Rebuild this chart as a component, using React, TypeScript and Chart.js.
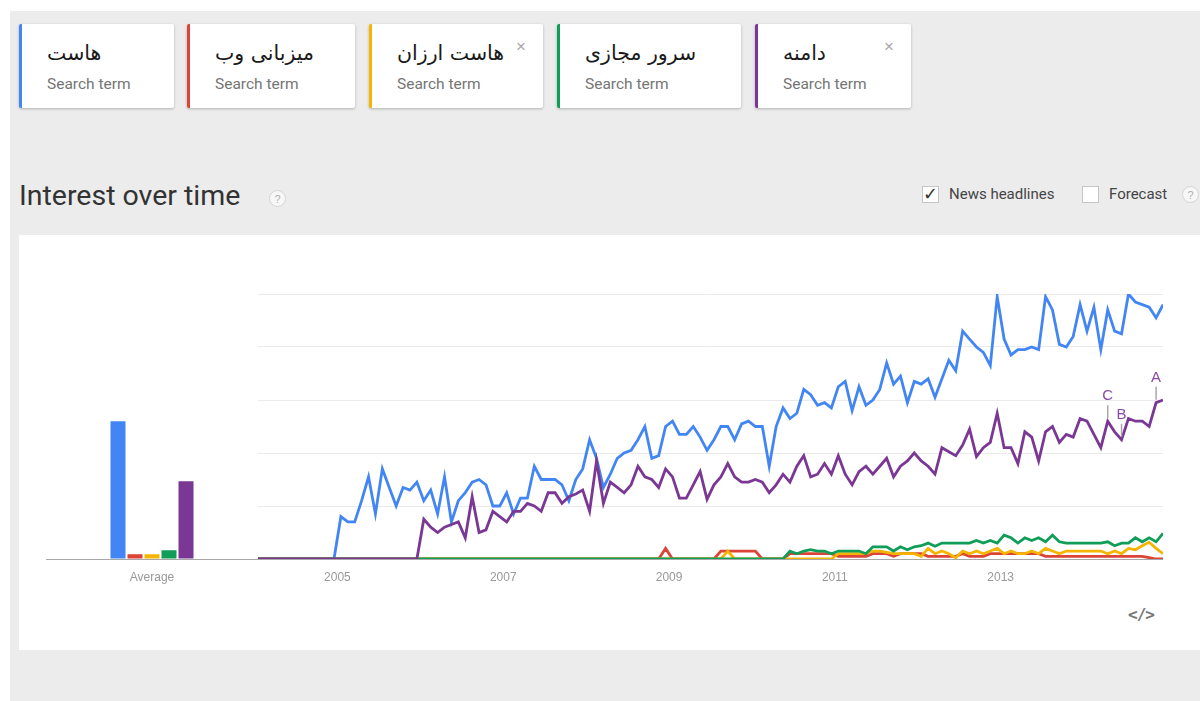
import React, { useEffect, useRef } from 'react';
import { Chart, registerables } from 'chart.js';

Chart.register(...registerables);

const TERMS = ['هاست', 'میزبانی وب', 'هاست ارزان', 'سرور مجازی', 'دامنه'];
const SUBTITLE = 'Search term';
const COLORS = ['#4285f4', '#db4437', '#f4b400', '#0f9d58', '#7b3794'];
const YEARS = [2004, 2005, 2006, 2007, 2008, 2009, 2010, 2011, 2012, 2013, 2014];
const MONTHS: string[] = YEARS.flatMap((y) =>
  ['01', '02', '03', '04', '05', '06', '07', '08', '09', '10', '11', '12'].map((m) => `${y}-${m}`)
);
const TICK_YEARS = ['2005', '2007', '2009', '2011', '2013'];
const AVERAGE_LABEL = 'Average';
const AVERAGE = [52, 1.8, 1.8, 3.3, 29.3];

// one row per year, Jan..Dec
const HOST = [
  0, 0, 0, 0, 0, 0, 0, 0, 0, 0, 0, 0,
  16, 14, 14, 22, 31, 17, 34, 27, 20, 27, 26, 29,
  22, 26, 17, 31, 14, 22, 25, 29, 30, 28, 20, 20,
  25, 17, 23, 23, 35, 30, 30, 30, 28, 22, 30, 34,
  45, 38, 27, 32, 38, 40, 41, 45, 50, 38, 39, 50,
  52, 47, 47, 50, 46, 41, 45, 50, 50, 45, 51, 52,
  50, 50, 35, 50, 57, 53, 55, 64, 62, 58, 59, 57,
  65, 67, 56, 65, 58, 60, 64, 74, 66, 69, 59, 67,
  66, 68, 61, 68, 75, 71, 86, 83, 80, 78, 73, 99,
  83, 77, 79, 79, 80, 79, 99, 94, 81, 80, 84, 96,
  86, 95, 79, 94, 86, 85, 100, 97, 96, 95, 91, 96,
];
const WEB_HOSTING = [
  0, 0, 0, 0, 0, 0, 0, 0, 0, 0, 0, 0,
  0, 0, 0, 0, 0, 0, 0, 0, 0, 0, 0, 0,
  0, 0, 0, 0, 0, 0, 0, 0, 0, 0, 0, 0,
  0, 0, 0, 0, 0, 0, 0, 0, 0, 0, 0, 0,
  0, 0, 0, 0, 0, 0, 0, 0, 0, 0, 0, 4,
  0, 0, 0, 0, 0, 0, 0, 3, 3, 3, 3, 3,
  3, 0, 0, 0, 0, 2, 2, 2, 2, 2, 2, 2,
  1, 1, 1, 1, 1, 2, 2, 2, 1, 2, 2, 2,
  2, 1, 1, 1, 1, 1, 2, 1, 1, 1, 2, 2,
  2, 2, 2, 2, 2, 2, 1, 1, 1, 1, 1, 1,
  1, 1, 1, 1, 1, 1, 1, 1, 1, 0.5, 0, 0,
];
const CHEAP_HOST = [
  0, 0, 0, 0, 0, 0, 0, 0, 0, 0, 0, 0,
  0, 0, 0, 0, 0, 0, 0, 0, 0, 0, 0, 0,
  0, 0, 0, 0, 0, 0, 0, 0, 0, 0, 0, 0,
  0, 0, 0, 0, 0, 0, 0, 0, 0, 0, 0, 0,
  0, 0, 0, 0, 0, 0, 0, 0, 0, 0, 0, 0,
  0, 0, 0, 0, 0, 0, 0, 0, 3, 0, 0, 0,
  0, 0, 0, 0, 0, 0, 0, 0, 0, 0, 0, 0,
  2, 2, 2, 2, 2, 3, 3, 2.5, 2, 2, 2, 2,
  1, 4, 2, 3, 2, 0.5, 3, 2, 3, 2, 3, 4,
  2, 3, 2, 2, 3, 2, 4, 3, 2, 3, 3, 3,
  3, 3, 3, 2, 3, 2, 4, 3.5, 5, 6.3, 4, 2,
];
const VPS = [
  0, 0, 0, 0, 0, 0, 0, 0, 0, 0, 0, 0,
  0, 0, 0, 0, 0, 0, 0, 0, 0, 0, 0, 0,
  0, 0, 0, 0, 0, 0, 0, 0, 0, 0, 0, 0,
  0, 0, 0, 0, 0, 0, 0, 0, 0, 0, 0, 0,
  0, 0, 0, 0, 0, 0, 0, 0, 0, 0, 0, 0,
  0, 0, 0, 0, 0, 0, 0, 0, 0, 0, 0, 0,
  0, 0, 0, 0, 0, 3, 2, 3, 3.5, 3, 3, 2,
  3, 3, 3, 3, 2, 4.6, 4.6, 4.6, 3, 4.6, 3.5, 4.6,
  5, 6, 4.8, 6, 6, 6, 6, 6, 7, 6, 7, 6,
  9, 8, 6, 8, 7, 8, 6.5, 9, 6.5, 6, 6, 6,
  6, 6, 6, 6.5, 5, 6, 6, 8, 6.5, 8, 6.5, 9.7,
];
const DOMAIN = [
  0, 0, 0, 0, 0, 0, 0, 0, 0, 0, 0, 0,
  0, 0, 0, 0, 0, 0, 0, 0, 0, 0, 0, 0,
  15, 12, 10, 12, 13, 14, 8, 23.5, 10, 11, 18, 16,
  14, 18, 18, 21, 20, 18, 25, 25, 21, 23.5, 24.5, 26,
  18, 37, 21, 29, 27, 25, 28, 35, 31, 30, 27, 34,
  31, 23, 23, 28, 33, 22.5, 28, 31, 36, 31, 29, 29,
  30, 29, 25, 28, 32, 29, 35, 39, 31, 32, 36, 32,
  39, 32, 28, 33, 35, 32, 35, 38, 31, 35, 37, 40,
  37, 35, 32, 42, 40.5, 39, 43, 49, 38.6, 42, 44, 55,
  42, 42, 36, 48, 46, 37, 48, 50, 44, 47, 46, 53,
  52, 47, 42, 52, 48, 45, 53, 52, 52, 50, 59, 60,
];
const SERIES = [HOST, WEB_HOSTING, CHEAP_HOST, VPS, DOMAIN];
const ANNOTATION_LABELS = ['A', 'B', 'C'];
const ANNOTATION_MONTHS = ['2014-11', '2014-06', '2014-04'];

const annotationPlugin = {
  id: 'newsMarkers',
  afterDatasetsDraw(chart: any) {
    const { ctx, scales } = chart;
    ANNOTATION_LABELS.forEach((label, k) => {
      const i = MONTHS.indexOf(ANNOTATION_MONTHS[k]);
      const px = scales.x.getPixelForValue(i);
      const py = scales.y.getPixelForValue(DOMAIN[i]);
      ctx.save();
      ctx.strokeStyle = '#a8a8a8';
      ctx.lineWidth = 1.5;
      ctx.beginPath();
      ctx.moveTo(px, py - 3);
      ctx.lineTo(px, py - 16);
      ctx.stroke();
      ctx.fillStyle = '#8a4aa3';
      ctx.font = '15px Arial, "Liberation Sans"';
      ctx.textAlign = 'center';
      ctx.textBaseline = 'middle';
      ctx.fillText(label, px, py - 25);
      ctx.restore();
    });
  },
};

const gridColor = (ctx: any) => (ctx.tick && ctx.tick.value === 0 ? '#a8a8a8' : '#ebebeb');

function LineChart() {
  const ref = useRef<HTMLCanvasElement>(null);
  useEffect(() => {
    const order = [4, 3, 2, 1, 0];
    const chart = new Chart(ref.current!, {
      type: 'line',
      data: {
        datasets: order.map((k) => ({
          label: TERMS[k],
          data: SERIES[k].map((v, i) => ({ x: i, y: v })),
          borderColor: COLORS[k],
          backgroundColor: COLORS[k],
          borderWidth: 2.8,
          pointRadius: 0,
          tension: 0,
        })),
      },
      options: {
        animation: false,
        responsive: false,
        maintainAspectRatio: false,
        layout: { padding: { top: 10, left: 8, right: 17, bottom: 0 } },
        plugins: { legend: { display: false }, tooltip: { enabled: false } },
        scales: {
          x: {
            type: 'linear',
            min: 0,
            max: MONTHS.length - 1,
            grid: { display: false },
            border: { display: false },
            afterBuildTicks: (s: any) => {
              s.ticks = TICK_YEARS.map((y) => ({ value: MONTHS.indexOf(`${y}-01`) - 0.5 }));
            },
            ticks: {
              autoSkip: false,
              maxRotation: 0,
              padding: 3,
              color: '#999',
              font: { family: 'Arial, "Liberation Sans"', size: 12 },
              callback: (_v: any, i: number) => TICK_YEARS[i],
            },
            afterFit: (s: any) => {
              s.height = 35;
            },
          },
          y: {
            min: 0,
            max: 100,
            ticks: { display: false, stepSize: 20 },
            border: { display: false },
            grid: { drawTicks: false, color: gridColor, lineWidth: 1 },
            afterFit: (s: any) => {
              s.width = 0;
            },
          },
        },
      },
      plugins: [annotationPlugin],
    } as any);
    return () => chart.destroy();
  }, []);
  return (
    <canvas
      ref={ref}
      width={930}
      height={310}
      style={{ position: 'absolute', left: 250, top: 284, width: 930, height: 310 }}
    />
  );
}

function AverageChart() {
  const ref = useRef<HTMLCanvasElement>(null);
  useEffect(() => {
    const chart = new Chart(ref.current!, {
      type: 'bar',
      data: {
        labels: [AVERAGE_LABEL],
        datasets: TERMS.map((t, k) => ({
          label: t,
          data: [AVERAGE[k]],
          backgroundColor: COLORS[k],
          categoryPercentage: 85 / 212,
          barPercentage: 15 / 17,
        })),
      },
      options: {
        animation: false,
        responsive: false,
        maintainAspectRatio: false,
        layout: { padding: { top: 10, left: 0, right: 0, bottom: 0 } },
        plugins: { legend: { display: false }, tooltip: { enabled: false } },
        scales: {
          x: {
            grid: { display: false },
            border: { display: false },
            ticks: { padding: 3, color: '#999', font: { family: 'Arial, "Liberation Sans"', size: 12 } },
            afterFit: (s: any) => {
              s.height = 35;
            },
          },
          y: {
            min: 0,
            max: 100,
            ticks: { display: false, stepSize: 20 },
            border: { display: false },
            grid: {
              drawTicks: false,
              color: (ctx: any) => (ctx.tick && ctx.tick.value === 0 ? '#a8a8a8' : 'rgba(0,0,0,0)'),
            },
            afterFit: (s: any) => {
              s.width = 0;
            },
          },
        },
      },
    } as any);
    return () => chart.destroy();
  }, []);
  return (
    <canvas
      ref={ref}
      width={212}
      height={310}
      style={{ position: 'absolute', left: 46, top: 284, width: 212, height: 310 }}
    />
  );
}

const CARD_LEFTS = [19, 187, 369, 557, 755];
const CARD_WIDTHS = [155, 168, 174, 184, 156];
const CARD_CLOSE = [false, false, true, false, true];

function Help({ left, top }: { left: number; top: number }) {
  return (
    <div
      style={{
        position: 'absolute',
        left,
        top,
        width: 17,
        height: 17,
        borderRadius: '50%',
        border: '1px solid #d4d4d4',
        background: '#f7f7f7',
        color: '#b0b0b0',
        fontSize: 11,
        lineHeight: '17px',
        textAlign: 'center',
        boxSizing: 'border-box',
        fontFamily: 'Arial, "Liberation Sans"',
      }}
    >
      ?
    </div>
  );
}

function Checkbox({ left, checked }: { left: number; checked: boolean }) {
  return (
    <div
      style={{
        position: 'absolute',
        left,
        top: 186,
        width: 17,
        height: 17,
        background: '#fff',
        border: '1px solid #c6c6c6',
        boxSizing: 'border-box',
        fontSize: 18,
        lineHeight: '14px',
        color: '#333',
        textAlign: 'center',
        fontFamily: '"DejaVu Sans"',
      }}
    >
      {checked ? '✓' : ''}
    </div>
  );
}

export default function App() {
  return (
    <div
      style={{
        position: 'fixed',
        left: 0,
        top: 0,
        width: 1200,
        height: 701,
        background: '#fff',
        overflow: 'hidden',
        fontFamily: 'Roboto, Arial, sans-serif',
      }}
    >
      <div style={{ position: 'absolute', left: 10, top: 11, width: 1190, height: 690, background: '#ececec' }} />
      {TERMS.map((t, k) => (
        <div
          key={k}
          style={{
            position: 'absolute',
            left: CARD_LEFTS[k],
            top: 24,
            width: CARD_WIDTHS[k],
            height: 84,
            background: '#fff',
            borderLeft: `3px solid ${COLORS[k]}`,
            borderRadius: 2,
            boxSizing: 'border-box',
            boxShadow: '0 1px 3px rgba(0,0,0,0.25)',
          }}
        >
          <div
            style={{
              position: 'absolute',
              left: 25,
              top: 15,
              fontSize: 20.5,
              lineHeight: '28px',
              color: '#1a1a1a',
              fontFamily: '"DejaVu Sans", "Noto Sans", sans-serif',
              whiteSpace: 'nowrap',
            }}
          >
            {t}
          </div>
          <div
            style={{
              position: 'absolute',
              left: 25,
              top: 51,
              fontSize: 15.5,
              lineHeight: '18px',
              color: '#757575',
              whiteSpace: 'nowrap',
            }}
          >
            {SUBTITLE}
          </div>
          {CARD_CLOSE[k] ? (
            <div
              style={{
                position: 'absolute',
                left: k === 2 ? 144 : 126,
                top: 14,
                fontSize: 17,
                color: '#a8a8a8',
                lineHeight: '18px',
                fontFamily: 'Arial, "Liberation Sans"',
              }}
            >
              ×
            </div>
          ) : null}
        </div>
      ))}
      <div
        style={{
          position: 'absolute',
          left: 19,
          top: 179,
          fontSize: 28.5,
          lineHeight: '34px',
          color: '#333',
          whiteSpace: 'nowrap',
        }}
      >
        Interest over time
      </div>
      <Help left={269} top={190} />
      <Checkbox left={922} checked={true} />
      <div style={{ position: 'absolute', left: 949, top: 185, fontSize: 15, lineHeight: '18px', color: '#444' }}>
        News headlines
      </div>
      <Checkbox left={1082} checked={false} />
      <div style={{ position: 'absolute', left: 1109, top: 185, fontSize: 15, lineHeight: '18px', color: '#444' }}>
        Forecast
      </div>
      <Help left={1182} top={186} />
      <div style={{ position: 'absolute', left: 19, top: 235, width: 1181, height: 415, background: '#fff' }} />
      <AverageChart />
      <LineChart />
      <div
        style={{
          position: 'absolute',
          left: 1128,
          top: 605,
          fontSize: 16,
          fontWeight: 'bold',
          color: '#777',
          lineHeight: '20px',
          fontFamily: '"DejaVu Sans Mono", monospace',
          letterSpacing: -1,
        }}
      >
        &lt;/&gt;
      </div>
    </div>
  );
}
